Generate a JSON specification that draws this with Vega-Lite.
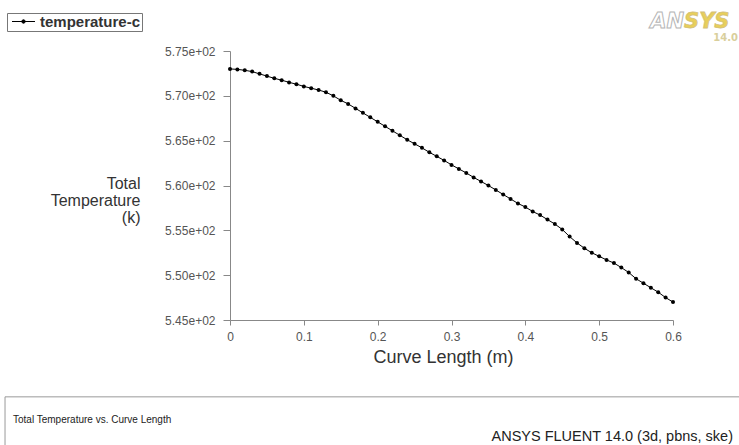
{
  "$schema": "https://vega.github.io/schema/vega-lite/v6.json",
  "autosize": {"type": "none"},
  "padding": {"left": 230, "top": 51, "right": 66, "bottom": 125},
  "width": 443,
  "height": 269,
  "background": "white",
  "config": {"font": "Liberation Sans", "view": {"stroke": null}},
  "datasets": {
    "temp": [
      {"length": 0.00, "temperature": 573.0, "series": "temperature-c"},
      {"length": 0.01, "temperature": 572.95, "series": "temperature-c"},
      {"length": 0.02, "temperature": 572.85, "series": "temperature-c"},
      {"length": 0.03, "temperature": 572.7, "series": "temperature-c"},
      {"length": 0.04, "temperature": 572.45, "series": "temperature-c"},
      {"length": 0.05, "temperature": 572.2, "series": "temperature-c"},
      {"length": 0.06, "temperature": 571.95, "series": "temperature-c"},
      {"length": 0.07, "temperature": 571.75, "series": "temperature-c"},
      {"length": 0.08, "temperature": 571.5, "series": "temperature-c"},
      {"length": 0.09, "temperature": 571.3, "series": "temperature-c"},
      {"length": 0.10, "temperature": 571.05, "series": "temperature-c"},
      {"length": 0.11, "temperature": 570.85, "series": "temperature-c"},
      {"length": 0.12, "temperature": 570.65, "series": "temperature-c"},
      {"length": 0.13, "temperature": 570.4, "series": "temperature-c"},
      {"length": 0.14, "temperature": 570.0, "series": "temperature-c"},
      {"length": 0.15, "temperature": 569.5, "series": "temperature-c"},
      {"length": 0.16, "temperature": 569.1, "series": "temperature-c"},
      {"length": 0.17, "temperature": 568.6, "series": "temperature-c"},
      {"length": 0.18, "temperature": 568.1, "series": "temperature-c"},
      {"length": 0.19, "temperature": 567.6, "series": "temperature-c"},
      {"length": 0.20, "temperature": 567.1, "series": "temperature-c"},
      {"length": 0.21, "temperature": 566.6, "series": "temperature-c"},
      {"length": 0.22, "temperature": 566.1, "series": "temperature-c"},
      {"length": 0.23, "temperature": 565.6, "series": "temperature-c"},
      {"length": 0.24, "temperature": 565.1, "series": "temperature-c"},
      {"length": 0.25, "temperature": 564.65, "series": "temperature-c"},
      {"length": 0.26, "temperature": 564.2, "series": "temperature-c"},
      {"length": 0.27, "temperature": 563.7, "series": "temperature-c"},
      {"length": 0.28, "temperature": 563.25, "series": "temperature-c"},
      {"length": 0.29, "temperature": 562.8, "series": "temperature-c"},
      {"length": 0.30, "temperature": 562.3, "series": "temperature-c"},
      {"length": 0.31, "temperature": 561.85, "series": "temperature-c"},
      {"length": 0.32, "temperature": 561.4, "series": "temperature-c"},
      {"length": 0.33, "temperature": 560.9, "series": "temperature-c"},
      {"length": 0.34, "temperature": 560.45, "series": "temperature-c"},
      {"length": 0.35, "temperature": 560.0, "series": "temperature-c"},
      {"length": 0.36, "temperature": 559.5, "series": "temperature-c"},
      {"length": 0.37, "temperature": 559.0, "series": "temperature-c"},
      {"length": 0.38, "temperature": 558.5, "series": "temperature-c"},
      {"length": 0.39, "temperature": 558.0, "series": "temperature-c"},
      {"length": 0.40, "temperature": 557.6, "series": "temperature-c"},
      {"length": 0.41, "temperature": 557.1, "series": "temperature-c"},
      {"length": 0.42, "temperature": 556.7, "series": "temperature-c"},
      {"length": 0.43, "temperature": 556.2, "series": "temperature-c"},
      {"length": 0.44, "temperature": 555.7, "series": "temperature-c"},
      {"length": 0.45, "temperature": 555.1, "series": "temperature-c"},
      {"length": 0.46, "temperature": 554.3, "series": "temperature-c"},
      {"length": 0.47, "temperature": 553.6, "series": "temperature-c"},
      {"length": 0.48, "temperature": 553.0, "series": "temperature-c"},
      {"length": 0.49, "temperature": 552.5, "series": "temperature-c"},
      {"length": 0.50, "temperature": 552.1, "series": "temperature-c"},
      {"length": 0.51, "temperature": 551.7, "series": "temperature-c"},
      {"length": 0.52, "temperature": 551.35, "series": "temperature-c"},
      {"length": 0.53, "temperature": 550.85, "series": "temperature-c"},
      {"length": 0.54, "temperature": 550.3, "series": "temperature-c"},
      {"length": 0.55, "temperature": 549.6, "series": "temperature-c"},
      {"length": 0.56, "temperature": 549.1, "series": "temperature-c"},
      {"length": 0.57, "temperature": 548.6, "series": "temperature-c"},
      {"length": 0.58, "temperature": 548.1, "series": "temperature-c"},
      {"length": 0.59, "temperature": 547.5, "series": "temperature-c"},
      {"length": 0.60, "temperature": 547.0, "series": "temperature-c"}
    ]
  },
  "layer": [
    {
      "data": {"name": "temp"},
      "encoding": {
        "x": {
          "field": "length", "type": "quantitative",
          "scale": {"domain": [0, 0.6], "nice": false, "zero": false},
          "axis": {
            "values": [0, 0.025, 0.05, 0.075, 0.1, 0.125, 0.15, 0.175, 0.2, 0.225, 0.25, 0.275, 0.3, 0.325, 0.35, 0.375, 0.4, 0.425, 0.45, 0.475, 0.5, 0.525, 0.55, 0.575, 0.6],
            "labelExpr": "abs(datum.value * 10 - round(datum.value * 10)) < 0.001 ? format(datum.value, '.1~f') : ''",
            "tickSize": {"condition": {"test": "abs(datum.value * 10 - round(datum.value * 10)) < 0.001", "value": 5}, "value": 3},
            "title": "Curve Length (m)",
            "titleFontSize": 18, "titleFontWeight": "normal", "titleColor": "#333",
            "titleX": 213, "titleY": 37, "titleAlign": "center", "titleBaseline": "middle",
            "labelFontSize": 12, "labelColor": "#555", "labelPadding": 6,
            "labelOverlap": false, "labelFlush": false, "grid": false,
            "domainColor": "#888", "tickColor": "#888"
          }
        },
        "y": {
          "field": "temperature", "type": "quantitative",
          "scale": {"domain": [545, 575], "nice": false, "zero": false},
          "axis": {
            "values": [545, 547.5, 550, 552.5, 555, 557.5, 560, 562.5, 565, 567.5, 570, 572.5, 575],
            "labelExpr": "datum.value % 5 === 0 ? replace(format(datum.value, '.2e'), 'e+', 'e+0') : ''",
            "tickSize": {"condition": {"test": "datum.value % 5 === 0", "value": 7}, "value": 4},
            "title": ["Total", "Temperature", "(k)"],
            "titleAngle": 0, "titleAlign": "right", "titleBaseline": "middle",
            "titleX": -90, "titleY": 132, "titleLineHeight": 17,
            "titleFontSize": 16, "titleFontWeight": "normal", "titleColor": "#333",
            "labelFontSize": 12, "labelColor": "#555", "labelPadding": 8,
            "labelOverlap": false, "labelFlush": false, "grid": false,
            "domainColor": "#888", "tickColor": "#888"
          }
        },
        "color": {
          "field": "series", "type": "nominal",
          "scale": {"range": ["black"]},
          "legend": {
            "orient": "none", "legendX": -223, "legendY": -38,
            "title": null, "strokeColor": "#777", "padding": 1,
            "symbolType": "M-2,0H2M-0.3,0A0.3,0.3,0,1,0,0.3,0A0.3,0.3,0,1,0,-0.3,0Z",
            "symbolSize": 132, "symbolOffset": 8, "symbolStrokeColor": "black", "symbolFillColor": "black",
            "symbolStrokeWidth": 1,
            "labelFontSize": 15, "labelFontWeight": "bold", "labelColor": "#333",
            "labelOffset": 9, "labelLimit": 0
          }
        }
      },
      "layer": [
        {"mark": {"type": "line", "strokeWidth": 1}},
        {"mark": {"type": "point", "filled": true, "size": 16, "opacity": 1}}
      ]
    },
    {
      "data": {"values": [{"label": "AN"}]},
      "mark": {"type": "text", "align": "right", "baseline": "alphabetic", "font": "DejaVu Sans", "fontWeight": "bold", "fontStyle": "italic", "fontSize": 21, "fill": "white", "stroke": "#b5b5b5", "strokeWidth": 1},
      "encoding": {
        "text": {"field": "label"},
        "x": {"datum": 0.6149, "type": "quantitative"},
        "y": {"datum": 577.6, "type": "quantitative"}
      }
    },
    {
      "data": {"values": [{"label": "SYS"}]},
      "mark": {"type": "text", "align": "left", "baseline": "alphabetic", "font": "DejaVu Sans", "fontWeight": "bold", "fontStyle": "italic", "fontSize": 21, "fill": "#e8cf5a", "stroke": "#d4c07a", "strokeWidth": 0.8},
      "encoding": {
        "text": {"field": "label"},
        "x": {"datum": 0.6149, "type": "quantitative"},
        "y": {"datum": 577.6, "type": "quantitative"}
      }
    },
    {
      "data": {"values": [{"label": "14.0"}]},
      "mark": {"type": "text", "align": "right", "baseline": "alphabetic", "font": "DejaVu Sans", "fontWeight": "bold", "fontSize": 10, "fill": "#d9cf9c"},
      "encoding": {
        "text": {"field": "label"},
        "x": {"datum": 0.688, "type": "quantitative"},
        "y": {"datum": 576.1, "type": "quantitative"}
      }
    },
    {
      "data": {"values": [{"label": "frame"}]},
      "mark": {"type": "rect", "fill": "transparent", "stroke": "#999", "strokeWidth": 1},
      "encoding": {
        "x": {"datum": -0.3047, "type": "quantitative"},
        "x2": {"datum": 0.6907},
        "y": {"datum": 536.43, "type": "quantitative"},
        "y2": {"datum": 530.85}
      }
    },
    {
      "data": {"values": [{"label": "Total Temperature vs. Curve Length"}]},
      "mark": {"type": "text", "align": "left", "baseline": "middle", "fontSize": 10, "color": "#222"},
      "encoding": {
        "text": {"field": "label"},
        "x": {"datum": -0.2939, "type": "quantitative"},
        "y": {"datum": 533.86, "type": "quantitative"}
      }
    },
    {
      "data": {"values": [{"label": "ANSYS FLUENT 14.0 (3d, pbns, ske)"}]},
      "mark": {"type": "text", "align": "right", "baseline": "middle", "fontSize": 14.5, "color": "#222"},
      "encoding": {
        "text": {"field": "label"},
        "x": {"datum": 0.6813, "type": "quantitative"},
        "y": {"datum": 531.97, "type": "quantitative"}
      }
    }
  ]
}
